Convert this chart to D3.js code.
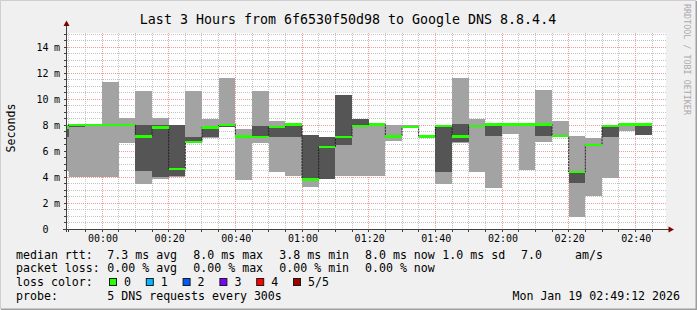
<!DOCTYPE html>
<html><head><meta charset="utf-8">
<script src="https://cdn.jsdelivr.net/npm/d3@7"></script>
<style>
body{margin:0;background:#f0f0f0}
svg{display:block}
text{font-family:"DejaVu Sans Mono",monospace;fill:#000}
</style>
</head><body>
<svg id="chart" width="697" height="310"></svg>
<script>
// ---------------- data ----------------
const title = "Last 3 Hours from 6f6530f50d98 to Google DNS 8.8.4.4";
const yAxisTitle = "Seconds";
const rangeStart = "2026-01-18T23:49:12";
const rangeEnd = "2026-01-19T02:49:12";
const binStarts = ["23:45","23:50","23:55","00:00","00:05","00:10","00:15","00:20","00:25","00:30",
  "00:35","00:40","00:45","00:50","00:55","01:00","01:05","01:10","01:15","01:20",
  "01:25","01:30","01:35","01:40","01:45","01:50","01:55","02:00","02:05","02:10",
  "02:15","02:20","02:25","02:30","02:35","02:40"];
// sorted ping round-trip times per 5 min bin (ms)
const ping1 = [4.50,4.03,4.03,4.03,6.59,3.46,3.87,4.03,6.62,7.03,7.86,3.77,6.64,4.36,4.05,3.25,3.83,4.05,4.05,4.05,
  6.77,7.80,7.10,3.46,6.60,4.38,3.15,7.31,4.52,6.70,7.12,0.92,2.53,3.95,7.53,7.20];
const ping2 = [7.05,7.82,8.01,8.01,8.01,4.49,4.03,4.04,6.64,7.05,7.87,7.10,7.08,7.05,7.05,3.80,3.85,6.45,7.93,8.03,
  7.10,7.81,7.11,4.40,6.72,7.93,7.12,7.95,8.03,7.12,7.13,3.55,6.45,7.08,8.03,7.22];
const ping3 = [7.82,8.03,8.03,8.03,8.03,7.13,7.82,4.64,6.67,7.82,8.03,7.12,7.10,7.87,8.05,3.82,6.30,7.08,7.95,8.05,
  7.12,7.85,7.12,7.93,7.12,7.95,8.05,8.05,8.05,8.05,7.14,4.38,6.50,7.93,8.05,8.05];
const ping4 = [7.95,8.04,8.04,8.05,8.05,8.00,8.00,8.00,7.10,7.84,8.05,7.14,7.92,7.95,8.06,7.20,7.05,10.27,8.44,8.06,
  7.14,7.86,7.13,7.95,8.08,7.97,8.06,8.06,8.06,8.07,7.15,4.40,6.52,7.95,8.06,8.07];
const ping5 = [7.97,8.05,8.05,11.33,8.54,10.64,8.54,8.02,10.64,8.46,11.60,7.72,10.60,8.33,8.07,7.23,7.10,10.30,8.46,8.07,
  8.00,8.00,7.14,7.96,11.62,8.50,8.07,8.07,8.07,10.67,8.31,7.13,7.03,7.96,8.07,8.08];
const yTicks = [0,2,4,6,8,10,12,14];
const xTickLabels = ["00:00","00:20","00:40","01:00","01:20","01:40","02:00","02:20","02:40"];
const rttStats = ["7.3","8.0","3.8","8.0"];
const lossStats = ["0.00","0.00","0.00","0.00"];
const statNames = ["avg","max","min","now"];
const rttSd = "1.0";
const amPerSec = "7.0";
const lossLabels = ["0","1","2","3","4","5/5"];
const lossColors = ["#26ff00","#00b8ff","#0059ff","#7e00ff","#ff0000","#a10000"];
const probeText = "5 DNS requests every 300s";
const stampText = "Mon Jan 19 02:49:12 2026";
const watermark = "RRDTOOL / TOBI OETIKER";

// ---------------- layout ----------------
const W = 697, H = 310;
const L = 66, R = 666, T = 33, B = 229;
const svg = d3.select("#chart");
const toDate = s => s.includes("T") ? new Date(s) :
  new Date((+s.slice(0,2) >= 12 ? "2026-01-18T" : "2026-01-19T") + s + ":00");
const x = d3.scaleTime().domain([toDate(rangeStart), toDate(rangeEnd)]).range([L, R]);
const y = d3.scaleLinear().domain([0, 15.077]).range([B, T]);
const px = v => Math.floor(v) + 0.5;

// background and frame
svg.append("rect").attr("width", W).attr("height", H).attr("fill", "#f0f0f0");
svg.append("path").attr("d", `M0,${H-1}V0H${W-1}`).attr("stroke", "#cfcfcf").attr("stroke-width", 2).attr("fill", "none");
svg.append("path").attr("d", `M1,${H-0.5}H${W-0.5}V1`).attr("stroke", "#9e9e9e").attr("stroke-width", 2).attr("fill", "none");
// canvas
svg.append("rect").attr("x", L + 1).attr("y", T).attr("width", R - L - 1).attr("height", B - T).attr("fill", "#ffffff");

const defs = svg.append("defs");
defs.append("clipPath").attr("id", "clip").append("rect")
  .attr("x", L + 1).attr("y", T).attr("width", R - L - 1).attr("height", B - T);

// grid
const grid = svg.append("g");
const minorY = d3.range(1, 31).map(i => i / 2).filter(v => v % 2 !== 0);
const minorX = x.ticks(d3.timeMinute.every(5)).filter(d => d.getMinutes() % 20 !== 0);
const majorX = xTickLabels.map(toDate);
grid.selectAll(".hy").data(minorY).join("line")
  .attr("x1", L + 1).attr("x2", R).attr("y1", d => px(y(d))).attr("y2", d => px(y(d)))
  .attr("stroke", "#c4c4c4").attr("stroke-dasharray", "1,1");
grid.selectAll(".vx").data(minorX).join("line")
  .attr("x1", d => px(x(d))).attr("x2", d => px(x(d))).attr("y1", T).attr("y2", B)
  .attr("stroke", "#c4c4c4").attr("stroke-dasharray", "1,1");
grid.selectAll(".hmy").data(yTicks.filter(v => v > 0)).join("line")
  .attr("x1", L + 1).attr("x2", R).attr("y1", d => px(y(d))).attr("y2", d => px(y(d)))
  .attr("stroke", "#f29a9a").attr("stroke-dasharray", "1,1");
grid.selectAll(".vmx").data(majorX).join("line")
  .attr("x1", d => px(x(d))).attr("x2", d => px(x(d))).attr("y1", T).attr("y2", B)
  .attr("stroke", "#f29a9a").attr("stroke-dasharray", "1,1");

// smoke
const bins = binStarts.map((s, i) => {
  const t0 = toDate(s);
  return { t0, t1: d3.timeMinute.offset(t0, 5), p: [ping1[i], ping2[i], ping3[i], ping4[i], ping5[i]] };
});
const layerColors = ["#a3a3a3", "#555555", "#555555", "#a3a3a3"];
const plot = svg.append("g").attr("clip-path", "url(#clip)");
const layers = [];
bins.forEach(b => {
  for (let k = 0; k < 4; k++) layers.push({ b, lo: b.p[k], hi: b.p[k + 1], c: layerColors[k] });
});
plot.selectAll(".smoke").data(layers).join("rect")
  .attr("shape-rendering", "crispEdges")
  .attr("x", d => x(d.b.t0)).attr("width", d => x(d.b.t1) - x(d.b.t0))
  .attr("y", d => y(d.hi)).attr("height", d => Math.max(0, y(d.lo) - y(d.hi)))
  .attr("fill", d => d.c);

// median line (black step) and loss-coloured band
const medPts = [];
bins.forEach(b => { medPts.push([x(b.t0), y(b.p[2])]); medPts.push([x(b.t1), y(b.p[2])]); });
plot.append("path").attr("d", d3.line()(medPts)).attr("fill", "none")
  .attr("stroke", "#202020").attr("stroke-width", 1).attr("stroke-dasharray", "2,1");
plot.selectAll(".med").data(bins).join("rect")
  .attr("shape-rendering", "crispEdges")
  .attr("x", d => x(d.t0)).attr("width", d => x(d.t1) - x(d.t0))
  .attr("y", d => y(d.p[2]) - 1).attr("height", 2.2)
  .attr("fill", lossColors[0]);

// axes
const axisCol = "#404040";
svg.selectAll(".ytk").data(minorY.concat(yTicks)).join("line")
  .attr("x1", L - 2).attr("x2", L).attr("y1", d => px(y(d))).attr("y2", d => px(y(d)))
  .attr("stroke", axisCol);
svg.selectAll(".xtk").data(minorX.concat(majorX)).join("line")
  .attr("x1", d => px(x(d))).attr("x2", d => px(x(d))).attr("y1", B).attr("y2", B + 3)
  .attr("stroke", axisCol);
svg.append("line").attr("x1", L + 0.5).attr("x2", L + 0.5).attr("y1", B + 3).attr("y2", 25).attr("stroke", axisCol);
svg.append("line").attr("x1", L - 3).attr("x2", 669).attr("y1", B + 0.5).attr("y2", B + 0.5).attr("stroke", axisCol);
svg.append("path").attr("d", `M${L - 2.5},26L${L + 0.5},20.5L${L + 3.5},26Z`).attr("fill", "#7f0000");
svg.append("path").attr("d", `M668.5,${B - 2.5}L674,${B + 0.5}L668.5,${B + 3.5}Z`).attr("fill", "#7f0000");

// tick labels
const tickFont = 10;
svg.selectAll(".ylab").data(yTicks).join("text")
  .attr("x", 48.5).attr("y", d => y(d) + 3.6).attr("text-anchor", "end")
  .attr("font-size", tickFont).text(d => d);
svg.selectAll(".yunit").data(yTicks.filter(v => v > 0)).join("text")
  .attr("x", 54).attr("y", d => y(d) + 3.6).attr("font-size", tickFont).text("m");
svg.selectAll(".xlab").data(xTickLabels).join("text")
  .attr("x", d => x(toDate(d)) + 1).attr("y", 242).attr("text-anchor", "middle")
  .attr("font-size", tickFont).text(d => d);

// titles
svg.append("text").attr("x", 348).attr("y", 24).attr("text-anchor", "middle")
  .attr("font-size", 13.3).text(title);
svg.append("text").attr("transform", "translate(15,128) rotate(-90)").attr("text-anchor", "middle")
  .attr("font-size", 11.6).text(yAxisTitle);
svg.append("text").attr("transform", "translate(683.5,4) rotate(90)")
  .attr("font-size", 8.4).style("fill", "#ababab").text(watermark);

// legend
const lf = 11.6;
const rowY = [258.5, 272.2, 285.9, 299.6];
const colX = [107.3, 193.3, 279.3, 365];
const leg = svg.append("g").attr("font-size", lf).attr("xml:space", "preserve");
const addT = (tx, xx, yy, anchor) => leg.append("text").attr("x", xx).attr("y", yy)
  .attr("text-anchor", anchor || "start").text(tx);
addT("median rtt:", 16, rowY[0]);
rttStats.forEach((v, i) => addT(`${v} ms ${statNames[i]}`, colX[i], rowY[0]));
addT(`${rttSd} ms sd`, 442.3, rowY[0]);
addT(amPerSec, 521, rowY[0]);
addT("am/s", 575, rowY[0]);
addT("packet loss:", 16, rowY[1]);
lossStats.forEach((v, i) => addT(`${v} % ${statNames[i]}`, colX[i], rowY[1]));
addT("loss color:", 16, rowY[2]);
lossLabels.forEach((lab, i) => {
  const bx = 109 + i * 36.8;
  leg.append("rect").attr("x", bx + 0.5).attr("y", 278.5).attr("width", 7).attr("height", 7)
    .attr("fill", lossColors[i]).attr("stroke", "#1a1a1a").attr("stroke-width", 1);
  addT(lab, bx + 15, rowY[2]);
});
addT("probe:", 16, rowY[3]);
addT(probeText, 107.3, rowY[3]);
addT(stampText, 680, rowY[3], "end");
</script>
</body></html>
